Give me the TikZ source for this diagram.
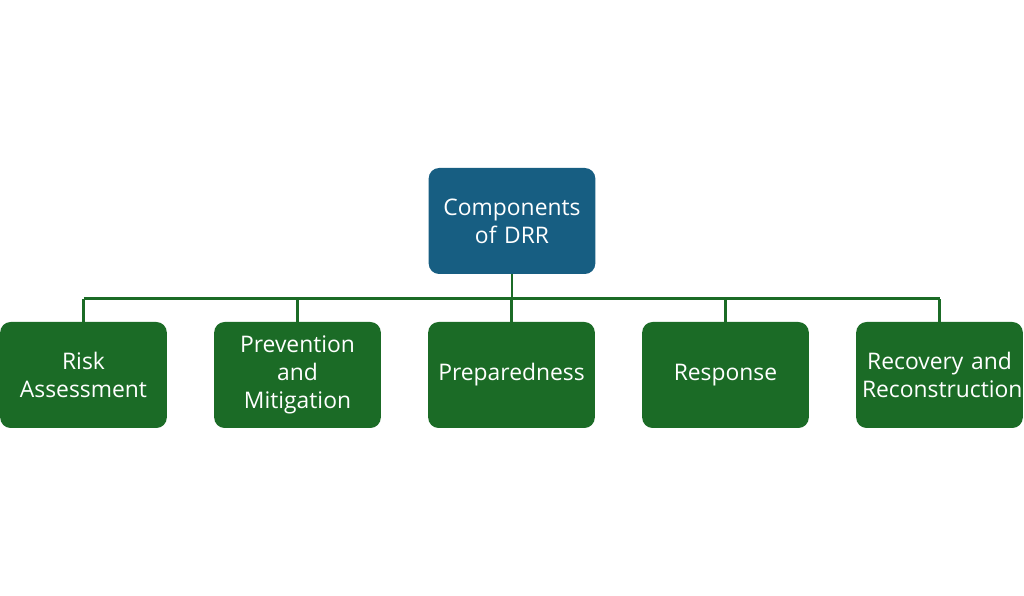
\documentclass[tikz,border=0pt]{standalone}
\usepackage{fontspec}
\setmainfont{Open Sans}
\usetikzlibrary{positioning}
\definecolor{drrblue}{HTML}{175E82}
\definecolor{drrgreen}{HTML}{1B6B26}
\begin{document}
\begin{tikzpicture}
\tikzstyle{box}=[draw=none,rounded corners=6pt,minimum width=3.24cm,minimum height=2.12cm,text width=3.1cm,align=center,text=white,font=\fontsize{13}{16}\selectfont]
\tikzstyle{root}=[box,fill=drrblue]
\tikzstyle{comp}=[box,fill=drrgreen]
\tikzstyle{link}=[draw=drrgreen,line width=1.4pt]
\useasboundingbox (0,0) rectangle (20.48,11.92);
\node [root] (drr) at (10.24,7.5) {Components of DRR};
\foreach \x/\name/\txt in {1.67/risk/{Risk\\Assessment},5.95/prev/{Prevention and\\Mitigation},10.23/prep/Preparedness,14.51/resp/Response,18.79/reco/{Recovery and\\Reconstruction}}{
    \node [comp] (\name) at (\x,4.42) {\txt};
    \draw [link] (\name.north) -- ++(0,0.46) coordinate (bus-\name);
}
\draw [link] (drr.south) -- ++(0,-0.5);
\draw [link] (bus-risk) -- (bus-reco);
\end{tikzpicture}
\end{document}
